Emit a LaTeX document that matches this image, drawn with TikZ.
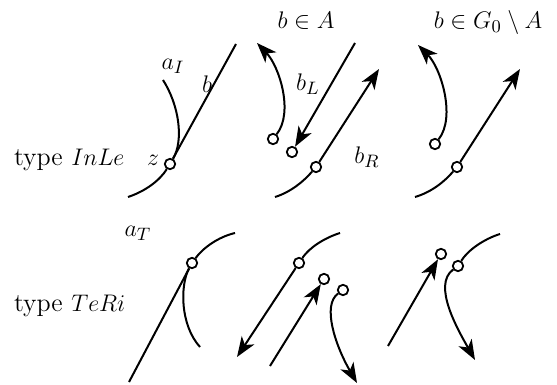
\documentclass[tikz,border=0pt]{standalone}
\usetikzlibrary{arrows.meta}
\begin{document}
\begin{tikzpicture}[x=0.5pt,y=-0.5pt,
  line width=1pt,
  every node/.style={font=\fontsize{13}{15}\selectfont},
  pt/.style={circle,draw,fill=white,inner sep=0pt,minimum size=5.2pt,line width=0.9pt},
  lbl/.style={inner sep=0pt},
  arr/.style={-{Stealth[length=10pt,width=7.5pt,inset=2.8pt]}}]
\useasboundingbox (0,0) rectangle (557,385);

% ---------- top row: type InLe ----------
\node[lbl,anchor=base west] (tInLe) at (13,165) {type $InLe$};
\node[lbl] (lz) at (153,160) {$z$};
\node[pt] (z) at (170,164) {};
\coordinate (bTop) at (236,44);
\coordinate (aItop) at (163,80);
\coordinate (aIbot) at (128,197);
\draw (z) -- (bTop);
\draw (aItop) .. controls (179,105) and (184,140) .. (z);
\draw (z) .. controls (160,180) and (146,191) .. (aIbot);
\node[lbl] (laI) at (173,66) {$a_I$};
\node[lbl] (lb) at (207,84) {$b$};

% ---------- top row: b in A ----------
\node[lbl,anchor=base] (tA) at (306,29) {$b\in A$};
\node[pt] (c1) at (273,139) {};
\node[pt] (c2) at (292,152) {};
\node[pt] (c3) at (316,167) {};
\coordinate (c1tip) at (257,43);
\coordinate (bLtop) at (355,43);
\coordinate (bRtip) at (379,69);
\coordinate (c3bot) at (275,197);
\draw[arr] (c1) .. controls (294,112) and (279,66) .. (c1tip);
\draw[arr] (bLtop) -- (c2);
\draw[arr] (c3) -- (bRtip);
\draw (c3) .. controls (304,181) and (291,192) .. (c3bot);
\node[lbl] (lbL) at (308,84) {$b_L$};
\node[lbl] (lbR) at (367,157) {$b_R$};

% ---------- top row: b in G0 \ A ----------
\node[lbl,anchor=base] (tG) at (488,29) {$b\in G_0\setminus A$};
\node[pt] (d1) at (435,144) {};
\node[pt] (d2) at (457,167) {};
\coordinate (d1tip) at (418,45);
\coordinate (d2tip) at (520,69);
\coordinate (d2bot) at (415,197);
\draw[arr] (d1) .. controls (456,117) and (441,68) .. (d1tip);
\draw[arr] (d2) -- (d2tip);
\draw (d2) .. controls (445,181) and (432,192) .. (d2bot);

% ---------- bottom row: type TeRi ----------
\node[lbl,anchor=base west] (tTeRi) at (13,311) {type $TeRi$};
\node[lbl] (laT) at (138,233) {$a_T$};
\node[pt] (e1) at (192,263) {};
\coordinate (e1arc) at (235,233);
\coordinate (e1line) at (129,382);
\coordinate (e1bot) at (200,347);
\draw (e1) .. controls (203,248) and (218,237) .. (e1arc);
\draw (e1) -- (e1line);
\draw (e1) .. controls (180,285) and (180,325) .. (e1bot);

% ---------- bottom row: middle ----------
\node[pt] (f1) at (299,263) {};
\node[pt] (f2) at (324,279) {};
\node[pt] (f3) at (343,290) {};
\coordinate (f1arc) at (340,233);
\coordinate (f1tip) at (237,357);
\coordinate (f2start) at (270,366);
\coordinate (f3tip) at (357,383);
\draw (f1) .. controls (309,248) and (324,238) .. (f1arc);
\draw[arr] (f1) -- (f1tip);
\draw[arr] (f2start) -- (f2);
\draw[arr] (f3) .. controls (322,305) and (335,345) .. (f3tip);

% ---------- bottom row: right ----------
\node[pt] (g1) at (441,254) {};
\node[pt] (g2) at (458,266) {};
\coordinate (g1start) at (388,346);
\coordinate (g2arc) at (500,234);
\coordinate (g2tip) at (475,360);
\draw[arr] (g1start) -- (g1);
\draw (g2) .. controls (468,250) and (484,239) .. (g2arc);
\draw[arr] (g2) .. controls (432,285) and (458,330) .. (g2tip);
\end{tikzpicture}
\end{document}
